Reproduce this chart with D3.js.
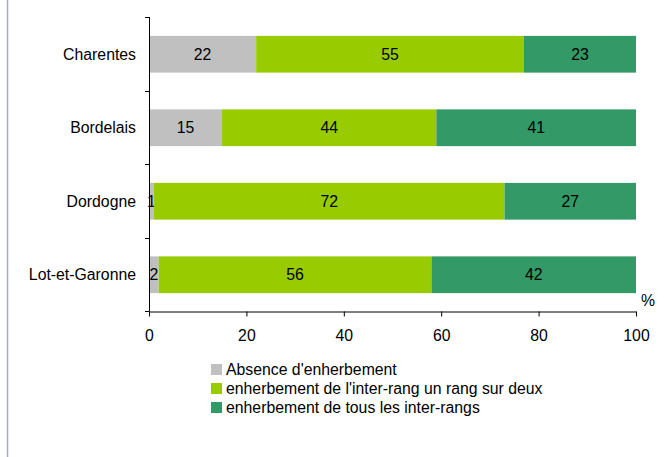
<!DOCTYPE html>
<html>
<head>
<meta charset="utf-8">
<script src="https://cdn.jsdelivr.net/npm/d3@7"></script>
<style>
  body { margin: 0; background: #fff; }
  svg { font-family: "Liberation Sans", Arial, sans-serif; }
</style>
</head>
<body>
<div id="chart"></div>
<script>
(function() {

    var width = 666,
    height = 457;

    // data
    var regions = ["Charentes", "Bordelais", "Dordogne", "Lot-et-Garonne"]
    var absence = [22, 15, 1, 2]
    var unSurDeux = [55, 44, 72, 56]
    var tous = [23, 41, 27, 42]
    var seriesNames = ["Absence d'enherbement", "enherbement de l'inter-rang un rang sur deux", "enherbement de tous les inter-rangs"]
    var seriesColors = ["#c0c0c0", "#99cc00", "#339966"]
    var xTicks = [0, 20, 40, 60, 80, 100]

    var rows = regions.map(function(r, i) {
        return { region: r, values: [absence[i], unSurDeux[i], tous[i]] }
    })

    var fs = "15.8px"

    var svg = d3.select("#chart")
    .append("svg")
    .attr("width", width)
    .attr("height", height)

    // left frame line
    svg.append("line")
    .attr("x1", 7.5).attr("x2", 7.5)
    .attr("y1", 0).attr("y2", height)
    .attr("stroke", "#a4abc4")
    .attr("stroke-width", 1.5)

    var x = d3.scaleLinear().domain([0, 100]).range([149, 636])
    var y = d3.scaleBand().domain(regions).range([17.5, 311.5]).paddingInner(0.5).paddingOuter(0.25)

    // bars
    var groups = svg.selectAll(".row")
    .data(rows)
    .enter().append("g")
    .attr("class", "row")

    groups.each(function(d) {
        var g = d3.select(this)
        var start = 0
        d.values.forEach(function(v, k) {
            g.append("rect")
            .attr("x", x(start))
            .attr("y", y(d.region))
            .attr("width", x(start + v) - x(start))
            .attr("height", y.bandwidth())
            .attr("fill", seriesColors[k])

            g.append("text")
            .attr("x", (x(start) + x(start + v)) / 2)
            .attr("y", y(d.region) + y.bandwidth() / 2)
            .attr("dy", "0.35em")
            .attr("text-anchor", "middle")
            .attr("font-size", fs)
            .attr("fill", "#000")
            .text(v)
            start += v
        })
    })

    // y axis
    var yAxis = svg.append("g")
    yAxis.append("line")
    .attr("x1", 149.5).attr("x2", 149.5)
    .attr("y1", 17).attr("y2", 311)
    .attr("stroke", "#000")
    var bounds = [17, 90.5, 164, 237.5, 311]
    yAxis.selectAll(".ytick")
    .data(bounds)
    .enter().append("line")
    .attr("x1", 145).attr("x2", 149.5)
    .attr("y1", function(d) { return Math.round(d) + 0.5 })
    .attr("y2", function(d) { return Math.round(d) + 0.5 })
    .attr("stroke", "#000")

    yAxis.selectAll(".ylab")
    .data(regions)
    .enter().append("text")
    .attr("x", 136)
    .attr("y", function(d) { return y(d) + y.bandwidth() / 2 })
    .attr("dy", "0.35em")
    .attr("text-anchor", "end")
    .attr("font-size", fs)
    .text(function(d) { return d })

    // x axis
    var xAxis = svg.append("g")
    .attr("transform", "translate(0,311.5)")
    .call(d3.axisBottom(x).tickValues(xTicks).tickSize(5).tickPadding(13).tickSizeOuter(0))
    xAxis.select(".domain").attr("stroke", "#000")
    xAxis.selectAll(".tick line").attr("stroke", "#000")
    xAxis.selectAll("text")
    .attr("font-size", fs)
    .attr("font-family", "Liberation Sans, Arial, sans-serif")
    .attr("fill", "#000")

    svg.append("text")
    .attr("x", 648)
    .attr("y", 300)
    .attr("dy", "0.35em")
    .attr("text-anchor", "middle")
    .attr("font-size", fs)
    .text("%")

    // legend
    var legend = svg.selectAll(".legend")
    .data(seriesNames)
    .enter().append("g")
    .attr("class", "legend")
    .attr("transform", function(d, i) { return "translate(211," + (364 + i * 19) + ")" })

    legend.append("rect")
    .attr("width", 11)
    .attr("height", 11)
    .attr("fill", function(d, i) { return seriesColors[i] })

    legend.append("text")
    .attr("x", 15)
    .attr("y", 5.5)
    .attr("dy", "0.35em")
    .attr("font-size", fs)
    .text(function(d) { return d })

})();
</script>
</body>
</html>
